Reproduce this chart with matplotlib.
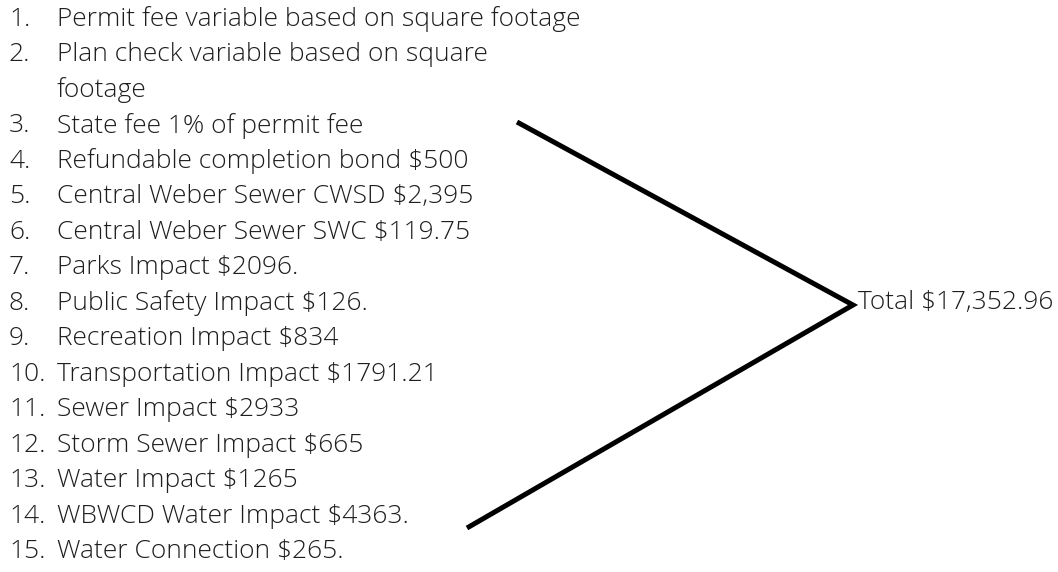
import matplotlib.pyplot as plt

# list entries (number, text); item 2 wraps onto a second line
numbers = ['1.', '2.', '', '3.', '4.', '5.', '6.', '7.', '8.', '9.', '10.',
           '11.', '12.', '13.', '14.', '15.']
entries = ['Permit fee variable based on square footage',
           'Plan check variable based on square',
           'footage',
           'State fee 1% of permit fee',
           'Refundable completion bond $500',
           'Central Weber Sewer CWSD $2,395',
           'Central Weber Sewer SWC $119.75',
           'Parks Impact $2096.',
           'Public Safety Impact $126.',
           'Recreation Impact $834',
           'Transportation Impact $1791.21',
           'Sewer Impact $2933',
           'Storm Sewer Impact $665',
           'Water Impact $1265',
           'WBWCD Water Impact $4363.',
           'Water Connection $265.']
total_label = 'Total $17,352.96'

# bracket joining the list to the total (pixel coordinates of the page)
bracket_x = [517, 853, 467]
bracket_y = [122, 305, 528]

W, H = 1058, 572
fig = plt.figure(figsize=(W / 100, H / 100), dpi=100)
ax = fig.add_axes([0, 0, 1, 1])
ax.set_xlim(0, W)
ax.set_ylim(H, 0)
ax.set_axis_off()

font = dict(family=['Open Sans', 'DejaVu Sans'], fontsize=19, fontweight='light',
            color='#1e1e1e')

first, last = 19, 552
step = (last - first) / (len(entries) - 1)
for i, (num, txt) in enumerate(zip(numbers, entries)):
    y = first + i * step
    ax.text(9, y, num, ha='left', va='center', **font)
    ax.text(57, y, txt, ha='left', va='center', **font)

ax.plot(bracket_x, bracket_y, color='black', lw=3.6, solid_capstyle='butt',
        solid_joinstyle='miter')
ax.text(bracket_x[1] + 5, bracket_y[1] - 2, total_label, ha='left', va='center', **font)

fig.savefig('out.png', dpi=100)
